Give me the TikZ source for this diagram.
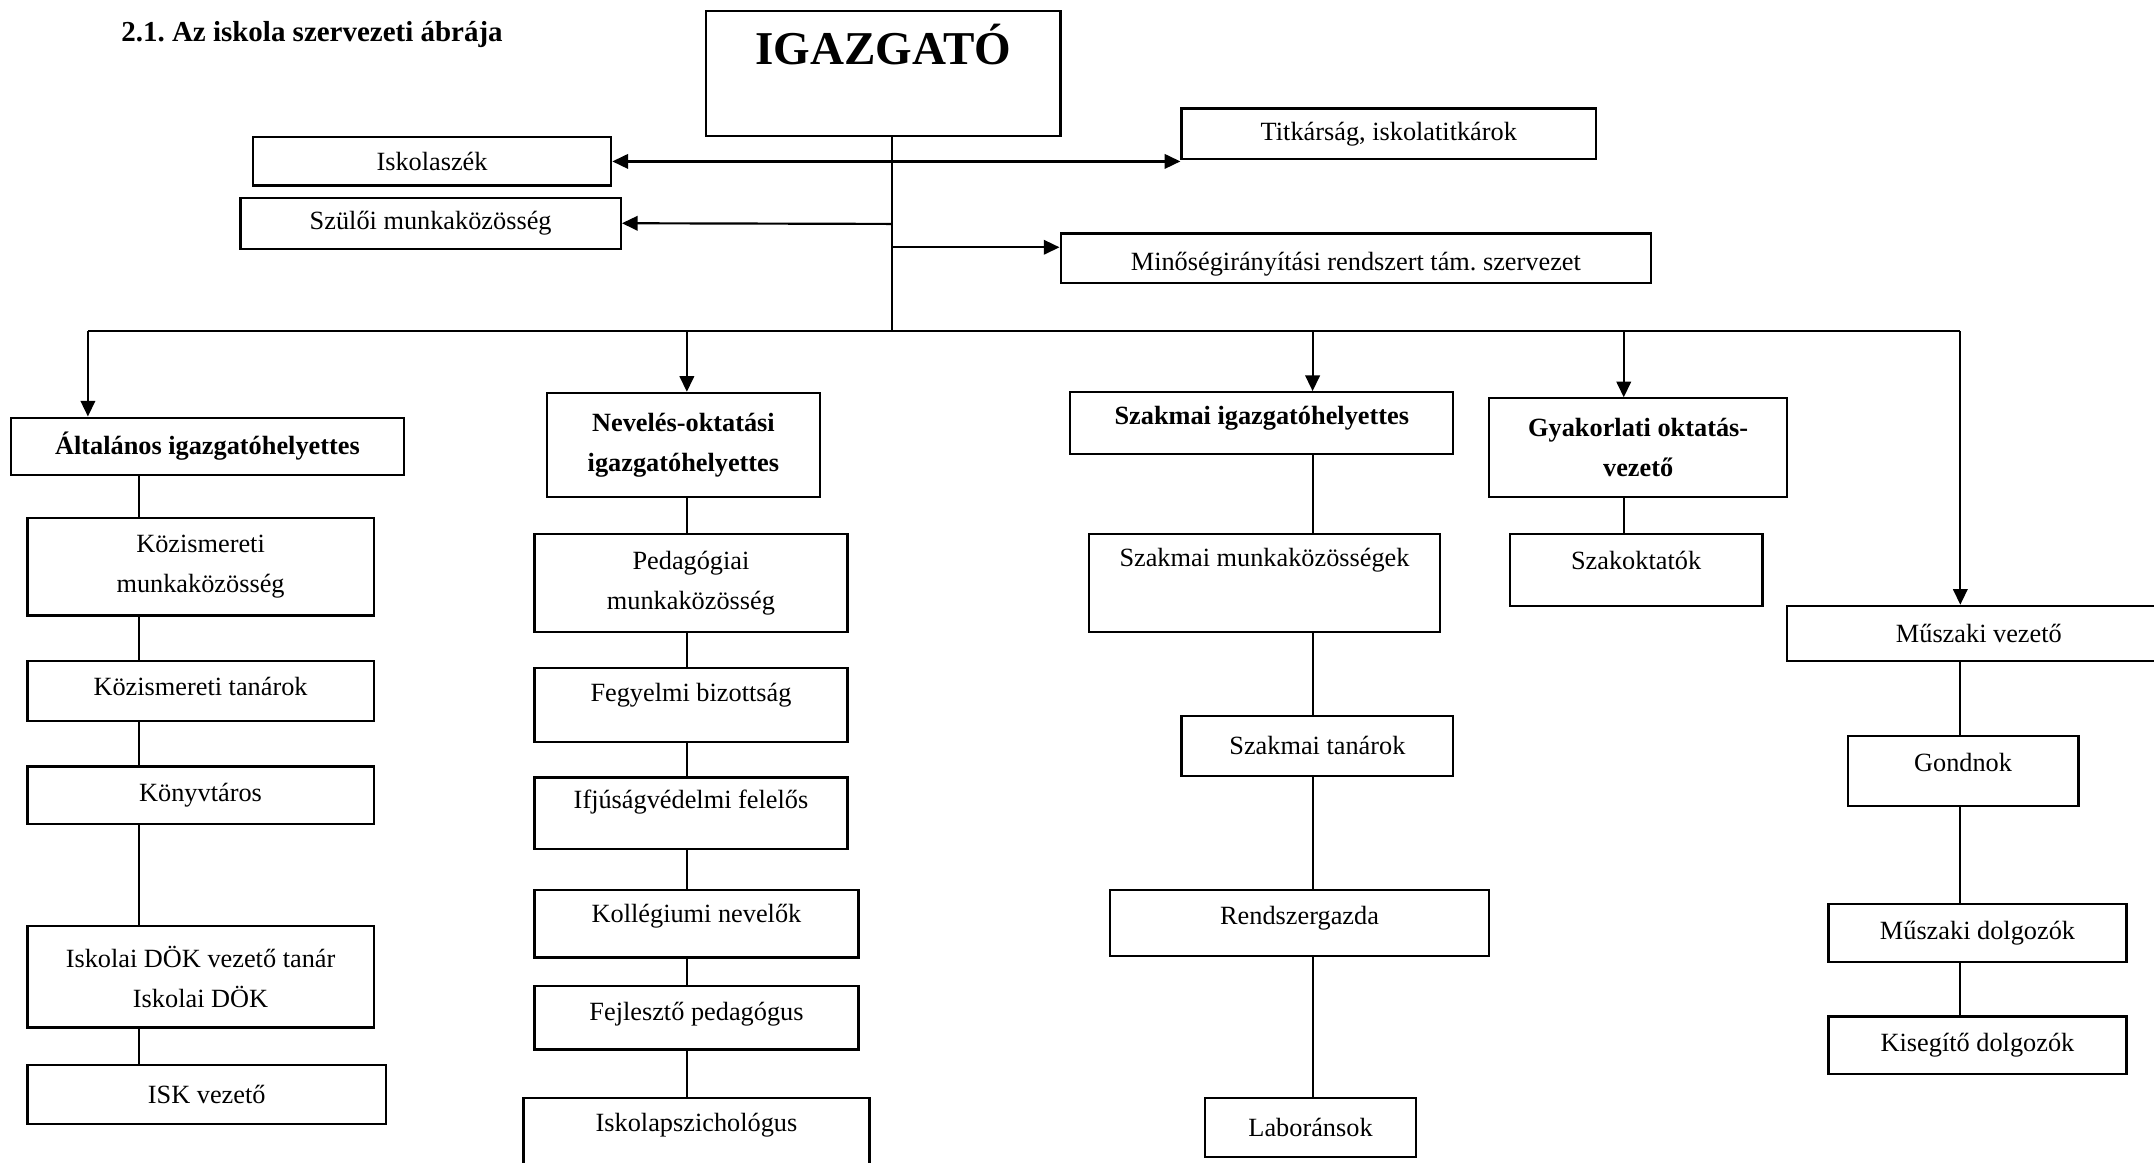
\documentclass[tikz,border=0pt]{standalone}
\usepackage{fontspec}
\setmainfont{Liberation Serif}
\frenchspacing
\usetikzlibrary{arrows.meta}
\tikzstyle{box}=[draw=black, rectangle, line width=0.9pt, inner sep=0pt, align=center, font=\fontsize{10.9}{16.5}\selectfont]
\tikzstyle{head}=[box, font=\bfseries\fontsize{10.9}{16.5}\selectfont]
\tikzstyle{l1}=[line width=0.8pt]
\tikzstyle{arr}=[line width=0.9pt, -{Triangle[length=6.5pt,width=6pt]}]
\tikzstyle{darr}=[line width=0.9pt, {Triangle[length=6.5pt,width=6pt]}-{Triangle[length=6.5pt,width=6pt]}]

\begin{document}
\begin{tikzpicture}[x=0.02cm, y=-0.02cm]
    \useasboundingbox (0,0) rectangle (1568,846);
    \node[anchor=base west, inner sep=0pt, font=\bfseries\fontsize{12}{14}\selectfont] (title) at (88,30.3) {2.1. Az iskola szervezeti ábrája};

    % top level
    \node[box, minimum width=5.16cm, minimum height=1.82cm, font=\bfseries\fontsize{19.5}{22}\selectfont, text height=0.5cm, text depth=0.75cm] (igaz) at (643,53.5) {IGAZGATÓ};
    \node[box, minimum width=5.22cm, minimum height=0.70cm] (iskolaszek) at (314.5,117.5) {Iskolaszék};
    \node[box, minimum width=6.04cm, minimum height=0.74cm] (titkar) at (1011,97.5) {Titkárság, iskolatitkárok};
    \node[box, minimum width=5.54cm, minimum height=0.74cm] (szuloi) at (313.5,162.5) {Szülői munkaközösség};
    \node[box, minimum width=8.60cm, minimum height=0.72cm, text height=0.45cm] (minoseg) at (987,188) {Minőségirányítási rendszert tám. szervezet};

    \coordinate (t1) at (649,163);
    \coordinate (t2) at (649,180);
    \coordinate (bus) at (649,241);
    \draw[l1] (igaz.south -| bus) -- (bus);
    \draw[darr] (iskolaszek.east) -- (iskolaszek.east -| titkar.west);
    \draw[arr] (t1) -- (szuloi.east);
    \draw[arr] (t2) -- (t2 -| minoseg.west);

    % deputies
    \node[head, minimum width=5.72cm, minimum height=0.84cm] (alt) at (151,325) {Általános igazgatóhelyettes};
    \node[head, minimum width=3.98cm, minimum height=1.52cm] (nev) at (497.5,324) {Nevelés-oktatási\\igazgatóhelyettes};
    \node[head, minimum width=5.58cm, minimum height=0.90cm, text depth=0.24cm] (szak) at (918.5,308) {Szakmai igazgatóhelyettes};
    \node[head, minimum width=4.34cm, minimum height=1.44cm] (gyak) at (1192.5,326) {Gyakorlati oktatás-\\vezető};
    \node[box, minimum width=5.58cm, minimum height=0.80cm] (muszv) at (1440.5,461) {Műszaki vezető};

    \coordinate (c1) at (101,241);
    \coordinate (c2) at (500,241);
    \coordinate (c3) at (955.5,241);
    \coordinate (c4) at (1182,241);
    \coordinate (c5) at (1427,241);
    \coordinate (d1) at (64,241);
    \draw[l1] (d1) -- (c5);
    \draw[arr] (d1) -- (d1 |- alt.north);
    \draw[arr] (c2) -- (c2 |- nev.north);
    \draw[arr] (c3) -- (c3 |- szak.north);
    \draw[arr] (c4) -- (c4 |- gyak.north);
    \draw[arr] (c5) -- (c5 |- muszv.north);

    % column 1
    \node[box, minimum width=5.04cm, minimum height=1.42cm] (kmk) at (146,412.5) {Közismereti\\munkaközösség};
    \node[box, minimum width=5.04cm, minimum height=0.88cm, text depth=0.14cm] (ktan) at (146,503) {Közismereti tanárok};
    \node[box, minimum width=5.04cm, minimum height=0.84cm] (konyv) at (146,579) {Könyvtáros};
    \node[box, minimum width=5.04cm, minimum height=1.48cm] (dok) at (146,711) {Iskolai DÖK vezető tanár\\Iskolai DÖK};
    \node[box, minimum width=5.22cm, minimum height=0.86cm] (isk) at (150.5,796.5) {ISK vezető};
    \draw[l1] (alt.south -| c1) -- (kmk.north -| c1);
    \draw[l1] (kmk.south -| c1) -- (ktan.north -| c1);
    \draw[l1] (ktan.south -| c1) -- (konyv.north -| c1);
    \draw[l1] (konyv.south -| c1) -- (dok.north -| c1);
    \draw[l1] (dok.south -| c1) -- (isk.north -| c1);

    % column 2
    \node[box, minimum width=4.56cm, minimum height=1.42cm] (ped) at (503,424.5) {Pedagógiai\\munkaközösség};
    \node[box, minimum width=4.56cm, minimum height=1.08cm, text depth=0.36cm] (feg) at (503,513) {Fegyelmi bizottság};
    \node[box, minimum width=4.56cm, minimum height=1.04cm, text depth=0.40cm] (ifj) at (503,592) {Ifjúságvédelmi felelős};
    \node[box, minimum width=4.72cm, minimum height=0.98cm, text depth=0.30cm] (kol) at (507,672.5) {Kollégiumi nevelők};
    \node[box, minimum width=4.72cm, minimum height=0.92cm, text depth=0.20cm] (fej) at (507,741) {Fejlesztő pedagógus};
    \node[box, minimum width=5.04cm, minimum height=1.14cm, text depth=0.42cm] (psz) at (507,827.5) {Iskolapszichológus};
    \draw[l1] (nev.south -| c2) -- (ped.north -| c2);
    \draw[l1] (ped.south -| c2) -- (feg.north -| c2);
    \draw[l1] (feg.south -| c2) -- (ifj.north -| c2);
    \draw[l1] (ifj.south -| c2) -- (kol.north -| c2);
    \draw[l1] (kol.south -| c2) -- (fej.north -| c2);
    \draw[l1] (fej.south -| c2) -- (psz.north -| c2);

    % column 3
    \node[box, minimum width=5.10cm, minimum height=1.42cm, text depth=0.74cm] (smk) at (920.5,424.5) {Szakmai munkaközösségek};
    \node[box, minimum width=3.96cm, minimum height=0.88cm] (stan) at (959,543) {Szakmai tanárok};
    \node[box, minimum width=5.52cm, minimum height=0.96cm, text depth=0.24cm] (rend) at (946,672) {Rendszergazda};
    \node[box, minimum width=3.08cm, minimum height=0.86cm] (lab) at (954,820.5) {Laboránsok};
    \draw[l1] (szak.south -| c3) -- (smk.north -| c3);
    \draw[l1] (smk.south -| c3) -- (stan.north -| c3);
    \draw[l1] (stan.south -| c3) -- (rend.north -| c3);
    \draw[l1] (rend.south -| c3) -- (lab.north -| c3);

    % column 4
    \node[box, minimum width=3.68cm, minimum height=1.04cm, text depth=0.28cm] (szokt) at (1191,415) {Szakoktatók};
    \draw[l1] (gyak.south -| c4) -- (szokt.north -| c4);

    % column 5
    \node[box, minimum width=3.36cm, minimum height=1.02cm, text depth=0.26cm] (gond) at (1429,561.5) {Gondnok};
    \node[box, minimum width=4.34cm, minimum height=0.84cm] (mdol) at (1439.5,679) {Műszaki dolgozók};
    \node[box, minimum width=4.34cm, minimum height=0.84cm] (kis) at (1439.5,761) {Kisegítő dolgozók};
    \draw[l1] (muszv.south -| c5) -- (gond.north -| c5);
    \draw[l1] (gond.south -| c5) -- (mdol.north -| c5);
    \draw[l1] (mdol.south -| c5) -- (kis.north -| c5);
\end{tikzpicture}
\end{document}
